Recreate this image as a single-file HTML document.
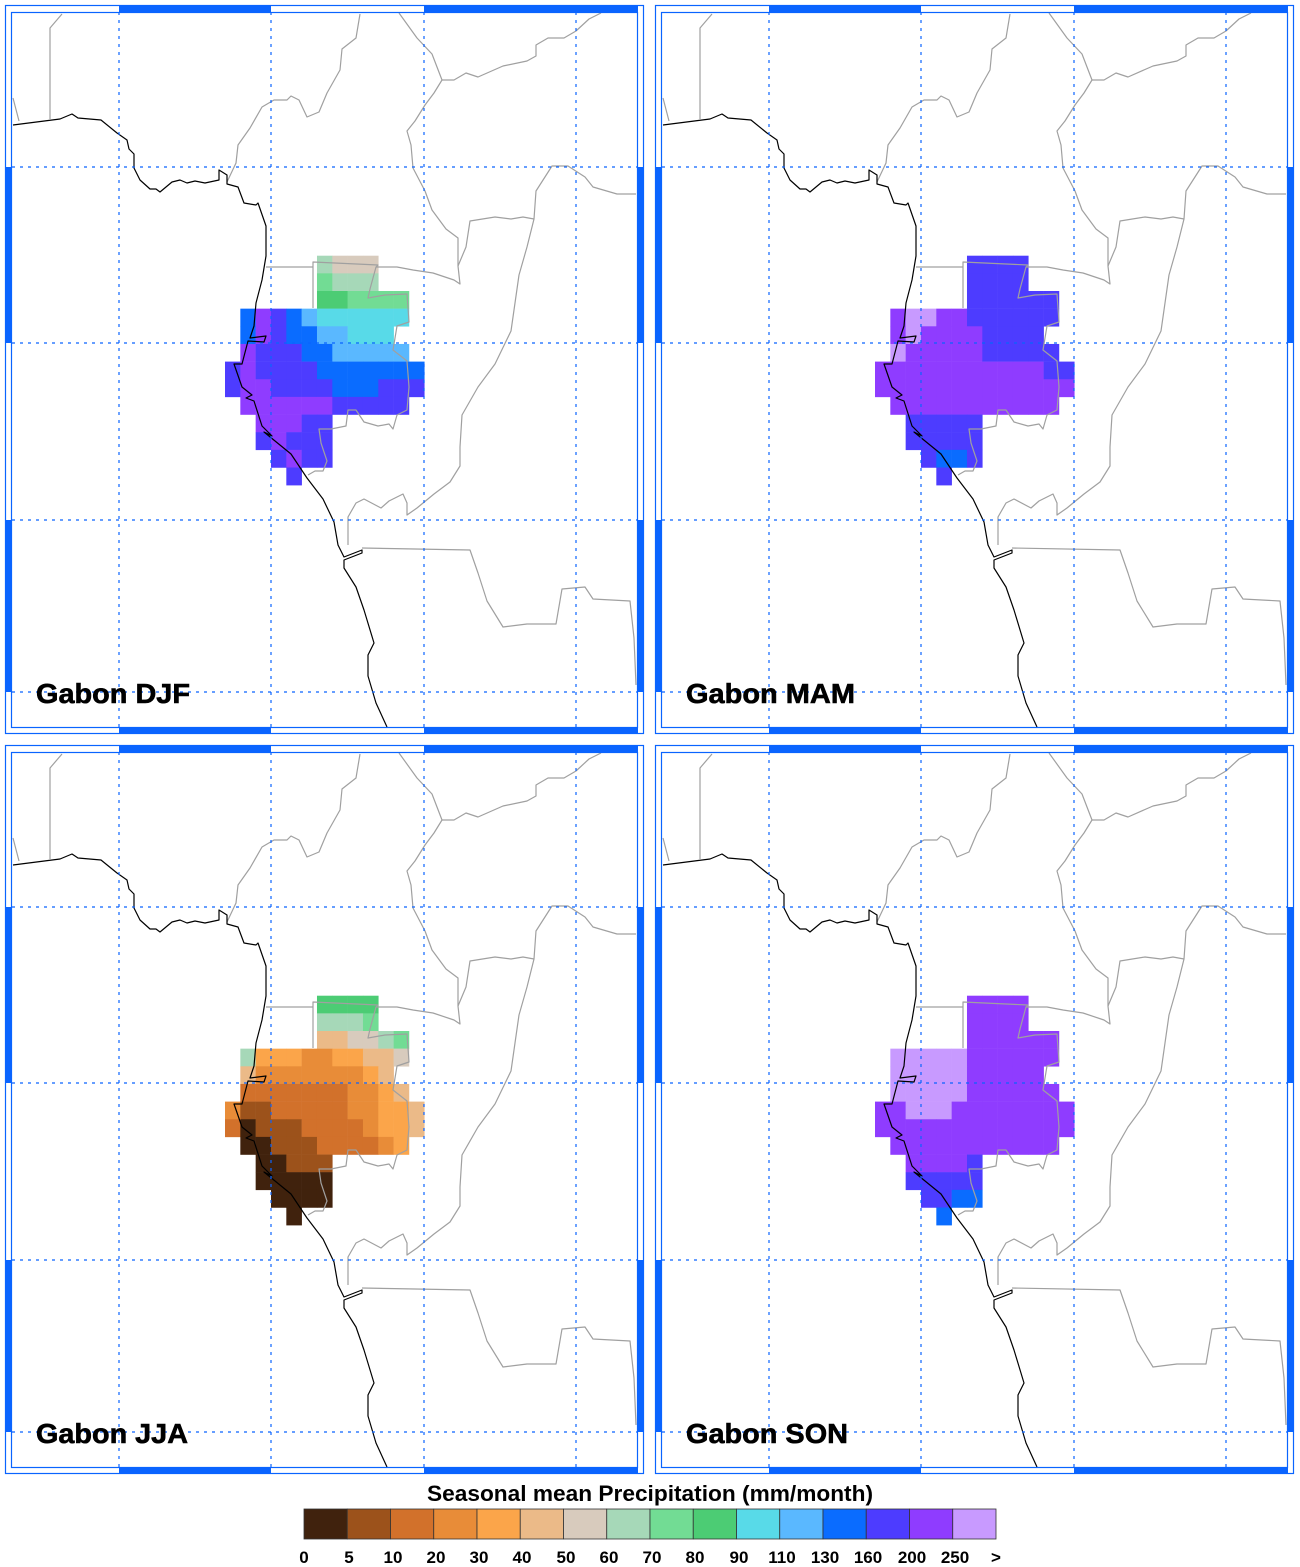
<!DOCTYPE html>
<html><head><meta charset="utf-8">
<style>
html,body{margin:0;padding:0;background:#fff;}
svg{display:block;}
text{font-family:"Liberation Sans",Arial,sans-serif;font-weight:bold;}
</style></head>
<body>
<svg id="s" width="1300" height="1567" viewBox="0 0 1300 1567" xmlns="http://www.w3.org/2000/svg">
<defs>
<g id="lines" fill="none" stroke-linejoin="round">
  <g stroke="#a0a0a0" stroke-width="1.2">
    <polyline points="62,14 50,28 50,119"/>
    <polyline points="13,98 19,121"/>
    <polyline points="360,14 356,38 342,49 340,70 327,93 319,112 307,117 299,100 291,96 287,100 274,100 262,107 250,128 238,145 236,163 227,182"/>
    <polyline points="399,13 417,38 432,54 442,80 434,93 425,105 415,121 407,131 411,145 413,168 425,191 432,210 446,229 458,238 458,266 460,284 454,280 433,273 413,270 397,267 376,267 378,265 313,262 313,308"/>
    <polyline points="266,267 313,267"/>
    <polyline points="442,80 454,80 466,73 478,77 503,66 527,61 536,56 536,45 548,38 564,38 576,31 589,19 601,13"/>
    <polyline points="458,266 466,247 470,221 495,217 511,219 523,217 534,219 536,191 552,166 568,166 585,177 593,187 617,194 636,194"/>
    <polyline points="534,219 527,247 519,275 515,303 511,331 495,364 478,387 462,415 460,447 460,466 450,482 434,494 417,508 407,515 407,503 403,494 389,501 381,508 364,499 356,503 348,517 348,545"/>
    <polyline points="362,548 470,550 478,573 487,601 503,627 527,624 556,624 562,589 585,587 593,599 630,601 634,638 636,685"/>
    <polyline points="376,267 370,289 368,298 385,295 407,294 409,322 397,326 393,350 407,361 409,387 407,410 397,415 393,429 389,424 378,426 364,422 356,410 348,410 346,426 331,429 319,429 321,443 327,461 323,471 315,471 308,475"/>
  </g>
  <polyline stroke="#000" stroke-width="1.2" points="13,125 60,119 72,114 78,118 101,120 117,133 127,140 129,149 134,154 134,168 140,180 150,189 156,189 160,192 172,182 180,180 187,183 195,181 205,183 219,180 219,170 227,175 227,184 238,187 244,203 256,205 258,203 266,226 266,256 262,280 256,303 254,326 250,338 266,336 264,342 248,341 242,364 234,364 242,387 252,395 246,398 254,401 262,426 272,436 264,432 291,454 307,478 323,499 334,522 338,545 344,557 362,550 362,553 344,560 344,568 356,587 364,610 374,643 368,655 368,676 376,703 387,727"/>
</g>
<g id="frame">
  <rect x="5.5" y="5.5" width="638" height="728" fill="none" stroke="#0a64ff" stroke-width="1.2"/>
  <rect x="11.5" y="12.5" width="626" height="715" fill="none" stroke="#0a64ff" stroke-width="1.2"/>
  <g fill="#0a64ff">
    <rect x="119" y="5" width="152" height="7"/><rect x="424" y="5" width="214" height="7"/>
    <rect x="119" y="728" width="152" height="6"/><rect x="424" y="728" width="214" height="6"/>
    <rect x="5" y="167" width="6" height="176"/><rect x="5" y="520" width="6" height="172"/>
    <rect x="638" y="167" width="6" height="176"/><rect x="638" y="520" width="6" height="172"/>
  </g>
  <g stroke="#0a64ff" stroke-width="1.2" stroke-dasharray="3,5">
    <line x1="119" y1="12" x2="119" y2="728"/><line x1="271" y1="12" x2="271" y2="728"/>
    <line x1="424" y1="12" x2="424" y2="728"/><line x1="576" y1="12" x2="576" y2="728"/>
    <line x1="12" y1="167" x2="638" y2="167"/><line x1="12" y1="343" x2="638" y2="343"/>
    <line x1="12" y1="520" x2="638" y2="520"/><line x1="12" y1="692" x2="638" y2="692"/>
  </g>
</g>
</defs>
<g id="p0"></g><g id="p1" transform="translate(650,0)"></g>
<g id="p2" transform="translate(0,740)"></g><g id="p3" transform="translate(650,740)"></g>

<g font-size="28" stroke="#000" stroke-width="0.6">
<text x="36" y="703" textLength="154" lengthAdjust="spacingAndGlyphs">Gabon DJF</text>
<text x="686" y="703" textLength="169" lengthAdjust="spacingAndGlyphs">Gabon MAM</text>
<text x="36" y="1443" textLength="152" lengthAdjust="spacingAndGlyphs">Gabon JJA</text>
<text x="686" y="1443" textLength="162" lengthAdjust="spacingAndGlyphs">Gabon SON</text>
</g>

<text x="427" y="1501" font-size="22" textLength="446" lengthAdjust="spacingAndGlyphs">Seasonal mean Precipitation (mm/month)</text>
<g id="cb"></g>
<g font-size="17" text-anchor="middle">
<text x="304" y="1563">0</text><text x="349" y="1563">5</text><text x="393" y="1563">10</text><text x="436" y="1563">20</text><text x="479" y="1563">30</text><text x="522" y="1563">40</text><text x="566" y="1563">50</text><text x="609" y="1563">60</text><text x="652" y="1563">70</text><text x="695" y="1563">80</text><text x="739" y="1563">90</text><text x="782" y="1563">110</text><text x="825" y="1563">130</text><text x="868" y="1563">160</text><text x="912" y="1563">200</text><text x="955" y="1563">250</text><text x="996" y="1563">&gt;</text>
</g>
</svg>
<script>
var C={a:"#40220d",b:"#9c521b",c:"#d2712b",d:"#e88c38",e:"#fba54a",f:"#ebba88",g:"#d8cbbd",h:"#a6d8b8",i:"#72dc94",j:"#4ccc74",k:"#58dae8",l:"#5ab8ff",m:"#0a6cff",n:"#4d3cff",o:"#8f3cff",p:"#c89aff"};
var G=[
["......hggg...","......ihhh...","......jjiiii.",".monmlkkkkkk.",".monmmllkkk..",".onnnmmlllll.","nonnnnmmmmmmm","noonnnnmmmnnn",".oooooonnnnn.","..ooonn......","..nonnn......","...nonn......","....n........"],
["......nnnn...","......nnnn...","......nnnnnn.",".oppoonnnnnn.",".opoooonnnn..",".pooooonnnnn.","ooooooooooonn","ooooooooooooo",".ooooooooooo.","..nnnnn......","..nnnnn......","...nmmn......","....n........"],
["......jjjj...","......hhhi...","......ffgghi.",".heeeddeeffg.",".fdddddddef..",".cccccccddef.","dbbcccccddeef","cabbbccccdeef",".aabbbccccde.","..aabbb......","..aaaaa......","...aaaa......","....a........"],
["......oooo...","......oooo...","......oooooo.",".pppppoooooo.",".pppppooooo..",".pppppoooooo.","oopppoooooooo","ooooooooooooo",".ooooooooooo.","..oooon......","..nnnnn......","...nnmm......","....m........"]];
var NS="http://www.w3.org/2000/svg";
function el(t,a,p){var e=document.createElementNS(NS,t);for(var k in a)e.setAttribute(k,a[k]);p.appendChild(e);return e;}
for(var p=0;p<4;p++){
 var g=document.getElementById("p"+p);
 for(var j=0;j<13;j++)for(var i=0;i<13;i++){var ch=G[p][j][i];if(ch==".")continue;
  var x0=225+15.33*i,y0=255.7+17.65*j;
  el("rect",{x:x0.toFixed(2),y:y0.toFixed(2),width:15.6,height:17.9,fill:C[ch]},g);}
 el("use",{href:"#lines"},g);
 el("use",{href:"#frame"},g);
}
var cb=document.getElementById("cb"),ks="abcdefghijklmnop";
for(var k=0;k<16;k++){el("rect",{x:(304+43.25*k).toFixed(2),y:1509,width:43.25,height:30,fill:C[ks[k]],stroke:"#333","stroke-width":0.8},cb);}
</script>
</body></html>
